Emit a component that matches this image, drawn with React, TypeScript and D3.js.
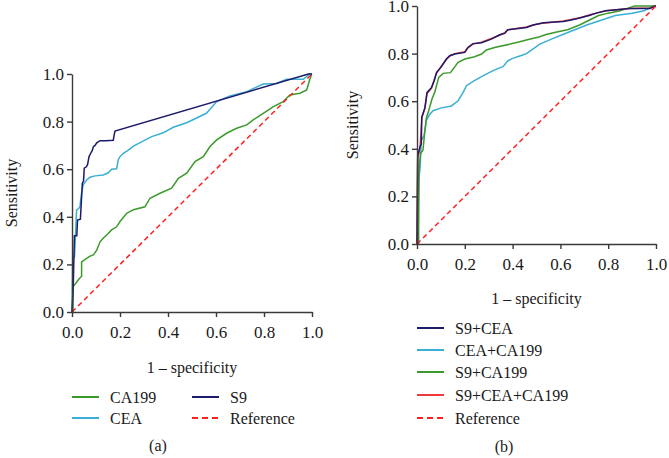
import { useEffect, useRef } from 'react';
import * as d3 from 'd3';

type Pt = [number, number];

// [1 - specificity, sensitivity] pairs
const tickValues = [0, 0.2, 0.4, 0.6, 0.8, 1.0];

const s9A: Pt[] = [
  [0, 0], [0.005, 0.1], [0.008, 0.23], [0.01, 0.32], [0.02, 0.32], [0.023, 0.386], [0.035, 0.39],
  [0.043, 0.54], [0.048, 0.55], [0.051, 0.604], [0.06, 0.61], [0.065, 0.62], [0.071, 0.653],
  [0.078, 0.667], [0.085, 0.68], [0.089, 0.695], [0.096, 0.7], [0.103, 0.711], [0.117, 0.72],
  [0.14, 0.72], [0.172, 0.722], [0.175, 0.74], [0.179, 0.76], [0.985, 1.0], [1, 1],
];

const ceaA: Pt[] = [
  [0, 0], [0.003, 0.227], [0.01, 0.23], [0.0125, 0.274], [0.019, 0.428], [0.028, 0.435],
  [0.033, 0.443], [0.04, 0.5], [0.047, 0.534], [0.061, 0.555], [0.075, 0.566], [0.096, 0.572],
  [0.13, 0.576], [0.151, 0.585], [0.165, 0.6], [0.186, 0.602], [0.193, 0.64], [0.2, 0.653],
  [0.214, 0.667], [0.235, 0.68], [0.256, 0.697], [0.3, 0.72], [0.332, 0.737], [0.38, 0.753],
  [0.422, 0.776], [0.478, 0.795], [0.56, 0.835], [0.603, 0.884], [0.658, 0.908], [0.728, 0.926],
  [0.797, 0.958], [0.853, 0.96], [0.894, 0.978], [0.964, 0.978], [0.99, 1.0], [1, 1],
];

const ca199A: Pt[] = [
  [0, 0], [0.004, 0], [0.004, 0.106], [0.015, 0.12], [0.03, 0.14], [0.04, 0.15], [0.04, 0.211],
  [0.061, 0.225], [0.075, 0.235], [0.089, 0.24], [0.103, 0.26], [0.117, 0.295], [0.13, 0.31],
  [0.151, 0.33], [0.165, 0.345], [0.186, 0.358], [0.2, 0.38], [0.228, 0.415], [0.256, 0.43],
  [0.304, 0.442], [0.325, 0.478], [0.367, 0.499], [0.415, 0.52], [0.443, 0.562], [0.478, 0.583],
  [0.5125, 0.632], [0.547, 0.653], [0.575, 0.695], [0.603, 0.723], [0.644, 0.751], [0.686, 0.772],
  [0.728, 0.786], [0.755, 0.807], [0.797, 0.835], [0.839, 0.863], [0.88, 0.884], [0.908, 0.912],
  [0.95, 0.919], [0.978, 0.933], [0.99, 0.975], [0.999, 1.0],
];

const s9CeaB: Pt[] = [
  [0, 0], [0.003, 0.372], [0.013, 0.41], [0.018, 0.42], [0.02, 0.533], [0.033, 0.572], [0.042, 0.637],
  [0.061, 0.658], [0.072, 0.686], [0.082, 0.721], [0.1, 0.742], [0.123, 0.777], [0.137, 0.791],
  [0.158, 0.798], [0.2, 0.805], [0.213, 0.826], [0.234, 0.842], [0.27, 0.846], [0.311, 0.861],
  [0.346, 0.879], [0.367, 0.885], [0.38, 0.9], [0.458, 0.91], [0.486, 0.92], [0.528, 0.93],
  [0.612, 0.935], [0.64, 0.94], [0.68, 0.95], [0.72, 0.96], [0.75, 0.97], [0.79, 0.98],
  [0.89, 0.99], [0.975, 0.99], [0.996, 1.0], [1, 1],
];

const s9CeaCa199B: Pt[] = [
  [0, 0], [0.003, 0.36], [0.013, 0.405], [0.02, 0.53], [0.033, 0.57], [0.042, 0.632], [0.061, 0.655],
  [0.072, 0.69], [0.082, 0.718], [0.1, 0.745], [0.123, 0.775], [0.137, 0.79], [0.158, 0.8],
  [0.2, 0.808], [0.213, 0.824], [0.234, 0.84], [0.27, 0.848], [0.311, 0.864], [0.346, 0.877],
  [0.367, 0.888], [0.38, 0.9], [0.458, 0.912], [0.486, 0.92], [0.528, 0.928], [0.612, 0.937],
  [0.64, 0.942], [0.68, 0.95], [0.72, 0.962], [0.75, 0.97], [0.79, 0.98], [0.89, 0.99],
  [0.975, 0.992], [0.996, 1.0], [1, 1],
];

const ceaCa199B: Pt[] = [
  [0, 0], [0.003, 0], [0.003, 0.1], [0.007, 0.268], [0.013, 0.32], [0.018, 0.435], [0.03, 0.456],
  [0.039, 0.519], [0.053, 0.544], [0.067, 0.56], [0.102, 0.572], [0.144, 0.58], [0.172, 0.602],
  [0.193, 0.637], [0.207, 0.665], [0.235, 0.683], [0.27, 0.703], [0.304, 0.721], [0.332, 0.735],
  [0.36, 0.745], [0.38, 0.77], [0.4, 0.78], [0.43, 0.79], [0.458, 0.8], [0.486, 0.82],
  [0.514, 0.84], [0.56, 0.86], [0.61, 0.88], [0.66, 0.9], [0.71, 0.92], [0.77, 0.94],
  [0.83, 0.96], [0.9, 0.97], [0.95, 0.98], [0.99, 1.0], [1, 1],
];

const s9Ca199B: Pt[] = [
  [0, 0], [0.007, 0], [0.007, 0.08], [0.009, 0.323], [0.015, 0.38], [0.025, 0.395], [0.033, 0.477],
  [0.04, 0.533], [0.049, 0.56], [0.063, 0.61], [0.074, 0.637], [0.091, 0.7], [0.109, 0.717],
  [0.14, 0.72], [0.172, 0.763], [0.2, 0.777], [0.241, 0.787], [0.27, 0.798], [0.29, 0.815],
  [0.325, 0.826], [0.39, 0.84], [0.43, 0.85], [0.47, 0.86], [0.51, 0.87], [0.54, 0.88],
  [0.58, 0.89], [0.63, 0.9], [0.68, 0.92], [0.72, 0.94], [0.76, 0.96], [0.8, 0.97],
  [0.85, 0.98], [0.88, 0.99], [0.91, 1.0], [1, 1],
];

const reference: Pt[] = [[0, 0], [1, 1]];

const NAVY = '#1c1b6b';
const LIGHT = '#3aafd6';
const GREEN = '#3b9a2c';
const RED = '#ef3b3b';
const DASH = '#ff1f1f';
const FONT = '"Liberation Serif", "Times New Roman", serif';

export default function App() {
  const svgRef = useRef<SVGSVGElement>(null);

  useEffect(() => {
    const svg = d3.select(svgRef.current);
    svg.selectAll('*').remove();

    const panel = (box, curves, label, xLabelY, yLabelX, tag) => {
      const x = d3.scaleLinear().domain([0, 1]).range([box.left, box.right]);
      const y = d3.scaleLinear().domain([0, 1]).range([box.bottom, box.top]);

      const line = d3.line<Pt>().x(d => x(d[0])).y(d => y(d[1]));

      curves.forEach(c => {
        svg.append('path')
          .datum(c.data)
          .attr('fill', 'none')
          .attr('stroke', c.color)
          .attr('stroke-width', 1.5)
          .attr('stroke-dasharray', c.dash ? '5,3.5' : null)
          .attr('d', line);
      });

      const xa = svg.append('g')
        .attr('transform', `translate(0,${box.bottom})`)
        .call(d3.axisBottom(x).tickValues(tickValues).tickFormat(d3.format('.1f')).tickSize(5).tickSizeOuter(0).tickPadding(9));
      const ya = svg.append('g')
        .attr('transform', `translate(${box.left},0)`)
        .call(d3.axisLeft(y).tickValues(tickValues).tickFormat(d3.format('.1f')).tickSize(5).tickSizeOuter(0).tickPadding(3));

      [xa, ya].forEach(a => {
        a.selectAll('path, line').attr('stroke', '#3a3a3a').attr('stroke-width', 1.4);
        a.selectAll('text').attr('font-family', FONT).attr('font-size', 17).attr('fill', '#1a1a1a');
      });

      svg.append('text')
        .attr('x', (box.left + box.right) / 2)
        .attr('y', xLabelY)
        .attr('text-anchor', 'middle')
        .attr('font-family', FONT)
        .attr('font-size', 16)
        .attr('fill', '#1a1a1a')
        .text('1 – specificity');

      svg.append('text')
        .attr('transform', `translate(${yLabelX},${(box.top + box.bottom) / 2}) rotate(-90)`)
        .attr('text-anchor', 'middle')
        .attr('font-family', FONT)
        .attr('font-size', 16)
        .attr('fill', '#1a1a1a')
        .text('Sensitivity');

      svg.append('text')
        .attr('x', tag.x)
        .attr('y', tag.y)
        .attr('text-anchor', 'middle')
        .attr('font-family', FONT)
        .attr('font-size', 16)
        .attr('fill', '#1a1a1a')
        .text(label);
    };

    const legendItem = (lx, ly, color, dash, name) => {
      svg.append('line')
        .attr('x1', lx).attr('x2', lx + 27)
        .attr('y1', ly).attr('y2', ly)
        .attr('stroke', color)
        .attr('stroke-width', 2)
        .attr('stroke-dasharray', dash ? '6,4' : null);
      svg.append('text')
        .attr('x', lx + 38)
        .attr('y', ly + 5.5)
        .attr('font-family', FONT)
        .attr('font-size', 16)
        .attr('fill', '#1a1a1a')
        .text(name);
    };

    // panel (a)
    panel(
      { left: 72, right: 312, top: 74, bottom: 312 },
      [
        { data: ca199A, color: GREEN },
        { data: ceaA, color: LIGHT },
        { data: s9A, color: NAVY },
        { data: reference, color: DASH, dash: true },
      ],
      '(a)', 373, 17, { x: 158, y: 451 }
    );
    legendItem(72, 397, GREEN, false, 'CA199');
    legendItem(72, 418, LIGHT, false, 'CEA');
    legendItem(192, 397, NAVY, false, 'S9');
    legendItem(192, 418, DASH, true, 'Reference');

    // panel (b)
    panel(
      { left: 417, right: 656, top: 6, bottom: 244 },
      [
        { data: ceaCa199B, color: LIGHT },
        { data: s9Ca199B, color: GREEN },
        { data: s9CeaCa199B, color: RED },
        { data: s9CeaB, color: NAVY },
        { data: reference, color: DASH, dash: true },
      ],
      '(b)', 304, 358, { x: 504, y: 452 }
    );
    legendItem(417, 328, NAVY, false, 'S9+CEA');
    legendItem(417, 350, LIGHT, false, 'CEA+CA199');
    legendItem(417, 372, GREEN, false, 'S9+CA199');
    legendItem(417, 395, RED, false, 'S9+CEA+CA199');
    legendItem(417, 418, DASH, true, 'Reference');
  }, []);

  return (
    <svg
      ref={svgRef}
      width={669}
      height={458}
      style={{ position: 'absolute', left: 0, top: 0, background: '#fff' }}
    />
  );
}
